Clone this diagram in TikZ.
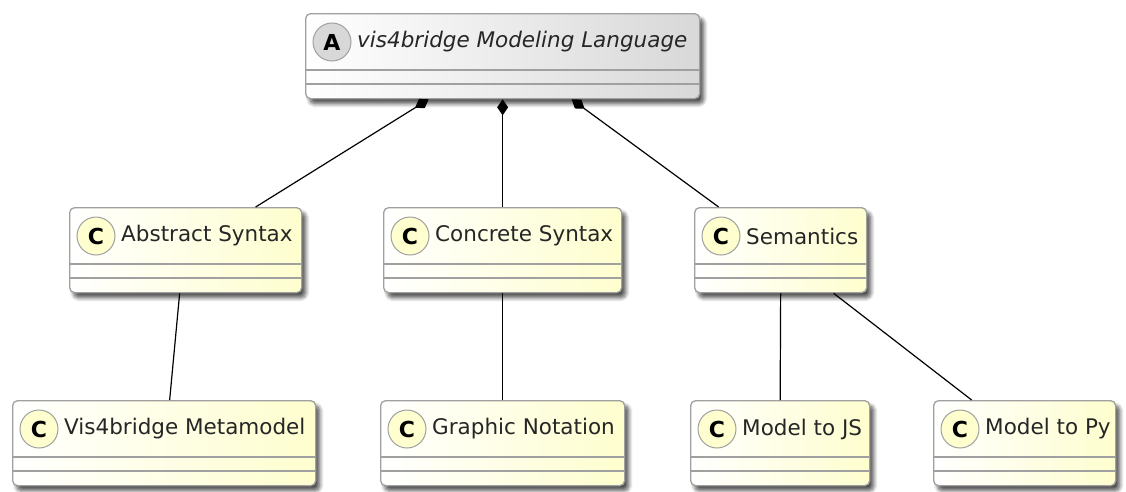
\documentclass[tikz,border=0pt]{standalone}
\usepackage{fontspec}
\setmainfont{DejaVu Sans}
\usetikzlibrary{arrows.meta,shadows.blur,calc}
\definecolor{cls}{HTML}{FEFECE}
\definecolor{bd}{HTML}{A0A0A0}
\definecolor{absfill}{HTML}{D8D8D8}
\tikzset{
 box/.style={draw=bd, line width=1.3pt, rounded corners=5pt, anchor=north west, inner sep=0pt,
   blur shadow={shadow xshift=4pt, shadow yshift=-5pt, shadow blur steps=8, shadow blur radius=4pt, shadow opacity=70}},
 classbox/.style={box, left color=white, right color=cls},
 absbox/.style={box, left color=white, right color=absfill},
 sep/.style={draw=bd, line width=1.3pt},
 icon/.style={circle, draw=bd, line width=1pt, minimum size=38pt, inner sep=0pt,
   font=\fontsize{22}{22}\selectfont\bfseries},
 title/.style={anchor=west, inner sep=0pt, font=\fontsize{21.5}{25}\selectfont, text=black!85},
 comp/.style={line width=1.2pt, {Diamond[length=16pt,width=11pt]}-},
 link/.style={line width=1.2pt}
}
\newcommand\umlcls[8]{%
 \node[#7, minimum width=#4pt, minimum height=85pt] (#1) at (#2,#3) {};
 \draw[sep] ($(#1.north west)+(0,57)$) -- ($(#1.north east)+(0,57)$);
 \draw[sep] ($(#1.north west)+(0,71)$) -- ($(#1.north east)+(0,71)$);
 \node[icon, fill=#8] (#1-icon) at ($(#1.north west)+(27,29)$) {#6};
 \node[title] (#1-title) at ($(#1.north west)+(52,29)$) {#5};
}
\begin{document}
\begin{tikzpicture}[x=1pt,y=-1pt]
\useasboundingbox (0,0) rectangle (1126,491);
\umlcls{top}{305}{13}{394}{\itshape vis4bridge Modeling Language}{A}{absbox}{absfill}
\umlcls{abs}{69}{207}{232}{Abstract Syntax}{C}{classbox}{cls}
\umlcls{conc}{383}{207}{238}{Concrete Syntax}{C}{classbox}{cls}
\umlcls{sem}{694}{207}{172}{Semantics}{C}{classbox}{cls}
\umlcls{vis}{12}{400}{303}{Vis4bridge Metamodel}{C}{classbox}{cls}
\umlcls{graph}{380}{400}{244}{Graphic Notation}{C}{classbox}{cls}
\umlcls{js}{690}{400}{179}{Model to JS}{C}{classbox}{cls}
\umlcls{py}{933}{400}{182}{Model to Py}{C}{classbox}{cls}
\draw[comp] ([xshift=-74pt]top.south) -- ([xshift=70pt]abs.north);
\draw[comp] (top.south) -- (conc.north);
\draw[comp] ([xshift=69pt]top.south) -- ([xshift=-62pt]sem.north);
\draw[link] ([xshift=-6pt]abs.south) -- ([xshift=5.5pt]vis.north);
\draw[link] (conc.south) -- (graph.north);
\draw[link] (sem.south) -- (js.north);
\draw[link] ([xshift=53pt]sem.south) -- ([xshift=-53pt]py.north);
\end{tikzpicture}
\end{document}
